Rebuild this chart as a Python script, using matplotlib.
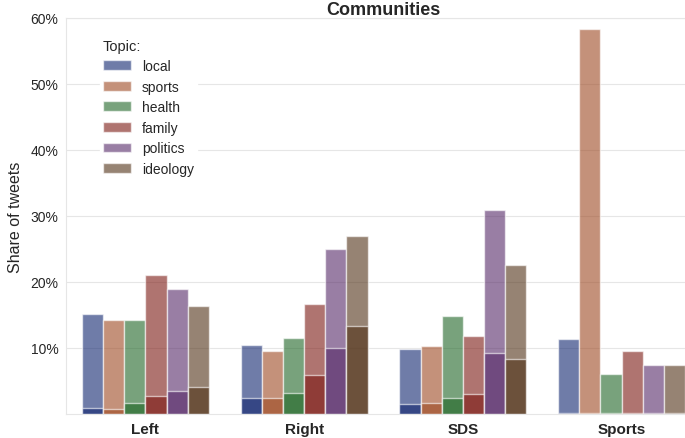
import matplotlib
matplotlib.use('Agg')
import matplotlib.pyplot as plt
import matplotlib.ticker as mtick
import numpy as np
import seaborn as sns

communities = ['Left', 'Right', 'SDS', 'Sports']
topics = ['local', 'sports', 'health', 'family', 'politics', 'ideology']

# total share per topic (one value per community)
share_total = {
    'local':    [0.152, 0.104, 0.098, 0.113],
    'sports':   [0.142, 0.096, 0.103, 0.583],
    'health':   [0.142, 0.115, 0.148, 0.060],
    'family':   [0.211, 0.167, 0.118, 0.096],
    'politics': [0.189, 0.250, 0.309, 0.074],
    'ideology': [0.164, 0.270, 0.226, 0.075],
}
# darker inner part of each bar
share_inner = {
    'local':    [0.009, 0.024, 0.015, 0.001],
    'sports':   [0.008, 0.024, 0.017, 0.001],
    'health':   [0.017, 0.032, 0.025, 0.001],
    'family':   [0.027, 0.059, 0.030, 0.001],
    'politics': [0.035, 0.100, 0.093, 0.001],
    'ideology': [0.041, 0.134, 0.084, 0.001],
}

sns.set_style('whitegrid', {'grid.color': '#e6e6e6', 'axes.edgecolor': '#e6e6e6'})
plt.rcParams['font.family'] = ['Liberation Sans', 'DejaVu Sans']

# seaborn barplot style: dark palette, desaturated a bit
colors = [sns.desaturate(c, 0.75) for c in sns.color_palette('dark', len(topics))]

fig = plt.figure(figsize=(6.85, 4.39), dpi=100)
ax = fig.add_axes([66 / 685, 24 / 439, 635 / 685, 396 / 439])

x = np.arange(len(communities))
n = len(topics)
width = 0.8 / n

for i, topic in enumerate(topics):
    pos = x - 0.4 + width * (i + 0.5)
    ax.bar(pos, share_total[topic], width=width, color=colors[i], alpha=0.6,
           edgecolor='white', linewidth=1, label=topic)
    ax.bar(pos, share_inner[topic], width=width, color=colors[i], alpha=0.6,
           edgecolor='white', linewidth=1)

ax.set_xlim(-0.5, 3.5)
ax.set_ylim(0, 0.6)
ax.set_yticks([0.1, 0.2, 0.3, 0.4, 0.5, 0.6])
ax.yaxis.set_major_formatter(mtick.PercentFormatter(1.0, decimals=0))
ax.set_xticks(x)
ax.set_xticklabels(communities, fontweight='bold', fontsize=11)
ax.tick_params(axis='y', labelsize=10, pad=2)
ax.tick_params(axis='x', pad=2)
ax.xaxis.grid(False)
ax.set_ylabel('Share of tweets', fontsize=11.5, labelpad=5)
ax.set_title('Communities', fontweight='bold', fontsize=13, pad=3)

leg = ax.legend(title='Topic:', loc='upper left', bbox_to_anchor=(0.054, 0.955),
                fontsize=10, title_fontsize=10.5, frameon=True, framealpha=1,
                edgecolor='white', alignment='left', handlelength=2.0,
                handletextpad=0.8, labelspacing=0.47, borderpad=0.2,
                borderaxespad=0)

fig.savefig('out.png', dpi=100)
